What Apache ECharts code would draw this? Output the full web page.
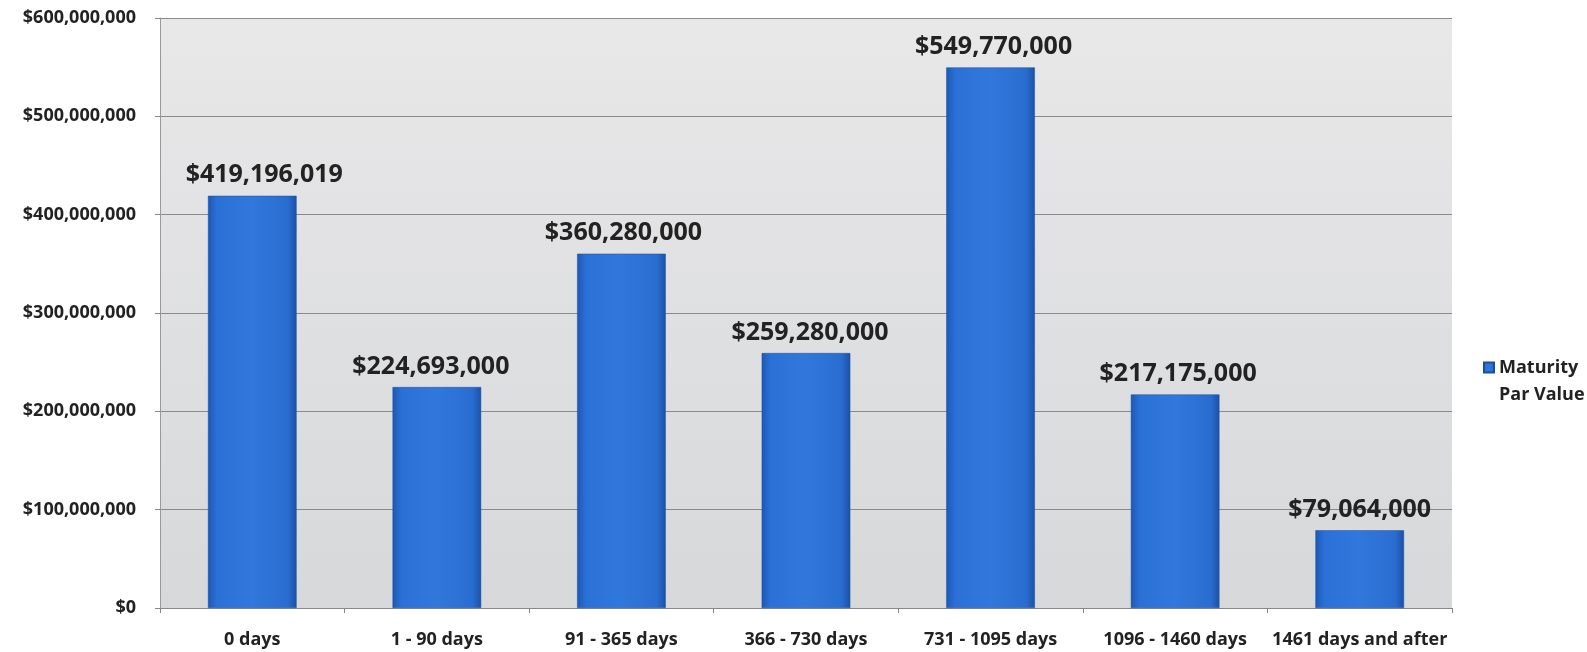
<!DOCTYPE html>
<html><head><meta charset="utf-8">
<script src="https://cdn.jsdelivr.net/npm/echarts@6/dist/echarts.min.js"></script>
<style>html,body{margin:0;padding:0;background:#fff}#c{width:1587px;height:652px}</style>
</head><body><div id="c"></div>
<script>
const categories = ['0 days','1 - 90 days','91 - 365 days','366 - 730 days','731 - 1095 days','1096 - 1460 days','1461 days and after'];
const values = [419196019, 224693000, 360280000, 259280000, 549770000, 217175000, 79064000];
const seriesName = 'Maturity\nPar Value';
const FONT = '"Open Sans", Lato, sans-serif';
// small horizontal nudges of the value labels, as placed in the original
const labelNudge = [12, -6, 2, 4, 3, 3, 0];
function money(v){ return '$' + Math.round(v).toString().replace(/\B(?=(\d{3})+(?!\d))/g, ','); }
const chart = echarts.init(document.getElementById('c'));
chart.setOption({
  animation:false,
  backgroundColor:'#ffffff',
  grid:{left:160, right:135, top:18, bottom:44, containLabel:false, show:true,
    backgroundColor:new echarts.graphic.LinearGradient(0,0,0,1,[{offset:0,color:'#e8e8e9'},{offset:1,color:'#d7d8da'}]),
    borderWidth:0},
  legend:{show:true, left:1478, top:322, orient:'vertical', itemWidth:10, itemHeight:10, itemGap:4,
    icon:'rect',
    formatter:name=>' \n' + name,
    textStyle:{fontFamily:FONT, fontWeight:'bold', fontSize:18, color:'#222', lineHeight:27},
    data:[{name:seriesName}]},
  xAxis:{type:'category', data:categories,
    axisLine:{lineStyle:{color:'#888', width:1}},
    axisTick:{show:true, length:5, lineStyle:{color:'#888'}},
    axisLabel:{fontFamily:FONT, fontWeight:'bold', fontSize:18, color:'#222', margin:23, interval:0}},
  yAxis:{type:'value', min:0, max:600000000, interval:100000000,
    axisLine:{show:true, lineStyle:{color:'#999'}},
    axisTick:{show:true, length:5, lineStyle:{color:'#888'}},
    splitLine:{lineStyle:{color:'#8a8a8a', width:1}},
    axisLabel:{fontFamily:FONT, fontWeight:'bold', fontSize:18, color:'#222', margin:24, formatter:money}},
  series:[{type:'bar', name:seriesName,
    data:values.map((v,i)=>({value:v, label:{offset:[labelNudge[i],0]}})),
    barWidth:'48%',
    itemStyle:{color:new echarts.graphic.LinearGradient(0,0,1,0,[
      {offset:0,color:'#1c58b5'},{offset:0.1,color:'#2b70d6'},{offset:0.5,color:'#3178dc'},{offset:0.9,color:'#2a6dd0'},{offset:1,color:'#1a51a6'}]),
      borderColor:'#1a4f9f', borderWidth:0.5},
    label:{show:true, position:'top', distance:8, formatter:p=>money(p.value),
      fontFamily:FONT, fontWeight:'bold', fontSize:25, color:'#222'}}]
});
</script></body></html>
